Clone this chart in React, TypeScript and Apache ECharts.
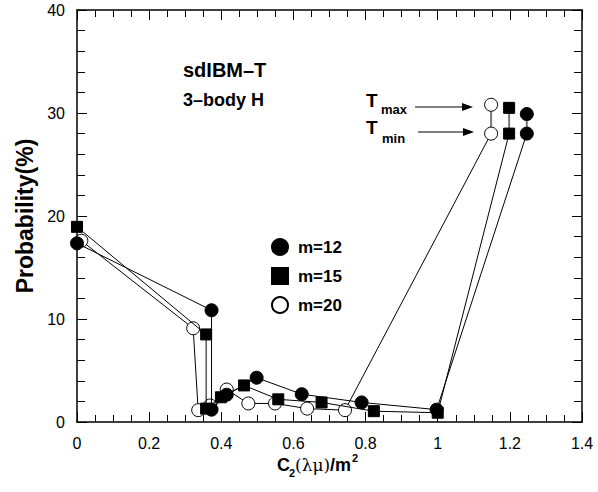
import React, { useEffect, useRef } from "react";
import * as echarts from "echarts";

const m12X = [0, 0.373, 0.373, 0.415, 0.498, 0.623, 0.789, 0.997, 1.247];
const m12Y = [17.35, 10.85, 1.2, 2.65, 4.3, 2.7, 1.9, 1.2, 28.0];
const m12Tmax = 29.9;

const m15X = [0, 0.358, 0.358, 0.399, 0.463, 0.558, 0.678, 0.823, 1.0, 1.198];
const m15Y = [18.95, 8.5, 1.3, 2.4, 3.55, 2.2, 1.9, 1.05, 0.9, 28.0];
const m15Tmax = 30.5;

const m20X = [0.012, 0.322, 0.336, 0.369, 0.415, 0.475, 0.549, 0.638, 0.743, 1.148];
const m20Y = [17.6, 9.1, 1.15, 1.6, 3.15, 1.8, 1.8, 1.3, 1.15, 28.0];
const m20Tmax = 30.8;

const seriesNames = ["m=12", "m=15", "m=20"];

const zip = (xs: number[], ys: number[]) => xs.map((x, i) => [x, ys[i]]);

export default function App() {
  const ref = useRef<HTMLDivElement>(null);
  useEffect(() => {
    document.body.style.margin = "0";
    if (!ref.current) return;
    const chart = echarts.init(ref.current, null, { renderer: "svg" });
    const font = "Liberation Sans, Arial, Helvetica, sans-serif";
    const axisLine = { show: true, onZero: false, lineStyle: { color: "#000", width: 1.5 } };
    const xBase = {
      type: "value" as const,
      min: 0,
      max: 1.4,
      interval: 0.2,
      axisLine,
      axisTick: { show: true, inside: true, length: 10, lineStyle: { color: "#000", width: 1 } },
      minorTick: { show: true, splitNumber: 4, length: 7, lineStyle: { color: "#000", width: 1 } },
      splitLine: { show: false },
    };
    const yBase = {
      type: "value" as const,
      min: 0,
      max: 40,
      interval: 10,
      axisLine,
      axisTick: { show: true, inside: true, length: 10, lineStyle: { color: "#000", width: 1 } },
      minorTick: { show: true, splitNumber: 5, length: 8, lineStyle: { color: "#000", width: 1 } },
      splitLine: { show: false },
    };
    const lineStyle = { color: "#000", width: 1 };
    const main = [
      { name: seriesNames[0], xs: m12X, ys: m12Y, tmax: m12Tmax, symbol: "circle", size: 13, fill: "#000" },
      { name: seriesNames[1], xs: m15X, ys: m15Y, tmax: m15Tmax, symbol: "rect", size: 11, fill: "#000" },
      { name: seriesNames[2], xs: m20X, ys: m20Y, tmax: m20Tmax, symbol: "circle", size: 13, fill: "#fff" },
    ];
    const series: any[] = [];
    main.forEach((s) => {
      const lastX = s.xs[s.xs.length - 1];
      const lastY = s.ys[s.ys.length - 1];
      series.push({
        name: s.name + " range",
        type: "line",
        data: [[lastX, lastY], [lastX, s.tmax]],
        symbol: "none",
        lineStyle: { color: "#777", width: 2 },
        z: 1,
        silent: true,
      });
    });
    main.forEach((s, i) => {
      const lastX = s.xs[s.xs.length - 1];
      const itemStyle = { color: s.fill, borderColor: "#000", borderWidth: 1, opacity: 1 };
      series.push({
        name: s.name,
        type: "line",
        data: [...zip(s.xs, s.ys)],
        symbol: s.symbol,
        symbolSize: s.size,
        lineStyle,
        itemStyle,
        z: 3 + (2 - i),
      });
      series.push({
        name: s.name,
        type: "scatter",
        data: [[lastX, s.tmax]],
        symbol: s.symbol,
        symbolSize: s.size,
        itemStyle,
        z: 3 + (2 - i),
      });
    });

    const boldFont = "Liberation Sans, Arial, Helvetica, sans-serif";
    const arrow = (x1: number, x2: number, y: number) => [
      { type: "line", shape: { x1, y1: y, x2: x2 - 10, y2: y }, style: { stroke: "#000", lineWidth: 1 } },
      {
        type: "polygon",
        shape: { points: [[x2 - 11, y - 4], [x2, y], [x2 - 11, y + 4]] },
        style: { fill: "#000" },
      },
    ];

    chart.setOption({
      animation: false,
      backgroundColor: "#fff",
      grid: { left: 77, right: 16, top: 10, bottom: 70 },
      xAxis: [
        {
          ...xBase,
          position: "bottom",
          axisLabel: { show: true, color: "#000", fontSize: 16, fontFamily: font, margin: 13 },
        },
        { ...xBase, position: "top", axisLabel: { show: false } },
      ],
      yAxis: [
        {
          ...yBase,
          position: "left",
          axisLabel: { show: true, color: "#000", fontSize: 16, fontFamily: font, margin: 12 },
          name: "Probability(%)",
          nameLocation: "middle",
          nameRotate: 90,
          nameGap: 37,
          nameTextStyle: { color: "#000", fontSize: 23, fontWeight: "bold", fontFamily: boldFont },
        },
        { ...yBase, position: "right", axisLabel: { show: false } },
      ],
      legend: {
        orient: "vertical",
        left: 266,
        top: 233,
        itemWidth: 16,
        itemHeight: 16,
        itemGap: 11,
        textStyle: {
          color: "#000",
          fontSize: 17,
          fontWeight: "bold",
          fontFamily: boldFont,
          padding: [0, 0, 0, 5],
        },
        data: [
          { name: seriesNames[0], icon: "circle" },
          { name: seriesNames[1], icon: "rect" },
          { name: seriesNames[2], icon: "circle" },
        ],
      },
      graphic: [
        {
          type: "text",
          x: 183,
          y: 60,
          style: { text: "sdIBM\u2013T", fill: "#000", font: `bold 20px ${boldFont}` },
        },
        {
          type: "text",
          x: 183,
          y: 91,
          style: { text: "3\u2013body H", fill: "#000", font: `bold 18px ${boldFont}` },
        },
        { type: "text", x: 366, y: 91, style: { text: "T", fill: "#000", font: `bold 19px ${boldFont}` } },
        { type: "text", x: 381, y: 103, style: { text: "max", fill: "#000", font: `bold 13px ${boldFont}` } },
        { type: "text", x: 366, y: 118, style: { text: "T", fill: "#000", font: `bold 19px ${boldFont}` } },
        { type: "text", x: 382, y: 132, style: { text: "min", fill: "#000", font: `bold 13px ${boldFont}` } },
        ...arrow(415, 473, 107),
        ...arrow(418, 474, 132),
        { type: "text", x: 277, y: 456, style: { text: "C", fill: "#000", font: `bold 18px ${boldFont}` } },
        { type: "text", x: 289, y: 467, style: { text: "2", fill: "#000", font: `bold 11px ${boldFont}` } },
        { type: "text", x: 295, y: 456, style: { text: "(\u03bb\u03bc)", fill: "#000", font: `17px DejaVu Serif, serif` } },
        { type: "text", x: 330, y: 456, style: { text: "/m", fill: "#000", font: `bold 18px ${boldFont}` } },
        { type: "text", x: 352, y: 452, style: { text: "2", fill: "#000", font: `bold 11px ${boldFont}` } },
      ],
      series,
    });
    return () => chart.dispose();
  }, []);
  return <div ref={ref} style={{ width: 598, height: 492 }} />;
}
